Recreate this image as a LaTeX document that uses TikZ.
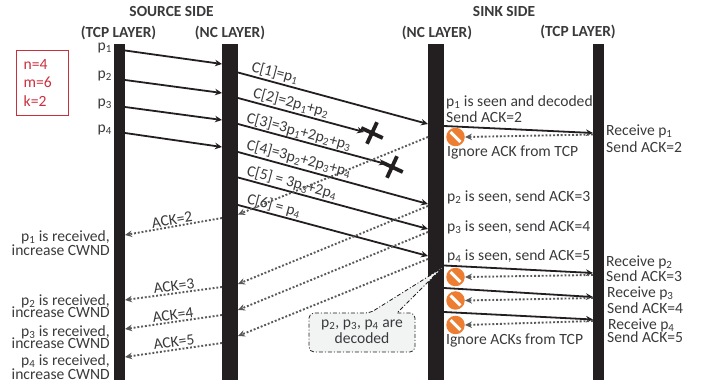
\documentclass[tikz,border=0pt]{standalone}
\usepackage{fontspec}
\setmainfont{Carlito}
\usetikzlibrary{arrows.meta,shapes.misc}
\definecolor{barcol}{HTML}{231F20}
\definecolor{txtcol}{HTML}{3A3A3C}
\definecolor{ackcol}{HTML}{58595B}
\definecolor{boxred}{HTML}{C9303E}
\definecolor{bancol}{HTML}{ED7D31}
\definecolor{notecol}{HTML}{F2F4F4}
\newcommand{\pk}[1]{p\textsubscript{#1}}
\tikzset{
  bar/.style={
    shape = rectangle,
    fill = barcol,
    inner sep = 0pt,
    minimum height = 336pt
  },
  datal/.style={
    draw = barcol,
    line width = 1.8pt,
    -{Stealth[length=7pt,width=6.5pt]}
  },
  ackl/.style={
    draw = ackcol,
    line width = 1.9pt,
    dash pattern = on 1.9pt off 1.9pt,
    -{Stealth[length=7pt,width=6.5pt]}
  },
  lab/.style={
    inner sep = 0pt,
    text = txtcol,
    font = \fontsize{15.6}{15}\selectfont
  },
  head/.style={
    lab,
    font = \fontsize{15.4}{15}\selectfont\bfseries
  },
  llab/.style={lab, anchor = west},
  rlab/.style={lab, anchor = east, align = right},
  lost/.style={
    shape = cross out,
    draw = barcol,
    line width = 3.8pt,
    inner sep = 0pt,
    minimum size = 13pt,
    rotate = 20
  },
  ban/.style={
    shape = circle,
    fill = bancol,
    inner sep = 0pt,
    minimum size = 18.5pt
  }
}
\begin{document}
\begin{tikzpicture}[x=1pt,y=-1pt]
  \useasboundingbox (0,0) rectangle (710,387);
  % layers
  \node[bar, minimum width=11pt] (tcpsrc) at (119.5,212) {};
  \node[bar, minimum width=16pt] (ncsrc) at (230,212) {};
  \node[bar, minimum width=16pt] (ncsnk) at (436,212) {};
  \node[bar, minimum width=11pt] (tcpsnk) at (598.5,212) {};
  \node[head] (srcside) at (171.5,12) {SOURCE SIDE};
  \node[head] (snkside) at (504,12) {SINK SIDE};
  \node[head] (h1) at (118.5,33) {(TCP LAYER)};
  \node[head] (h2) at (230,33) {(NC LAYER)};
  \node[head] (h3) at (437,33) {(NC LAYER)};
  \node[head] (h4) at (578,32) {(TCP LAYER)};
  % parameters
  \node[draw=boxred, text=boxred, font=\fontsize{15.6}{18.5}\selectfont, align=left,
    anchor=north west, inner sep=0pt, inner xsep=8pt, text width=36pt,
    minimum height=65pt] (params) at (15.5,50) {n=4\\m=6\\k=2};
  % packets into the NC layer
  \foreach \i/\ya/\yb/\yl in {1/50.5/64/48,2/80/93/76,3/107/120/104,4/133/147/130} {
    \coordinate (s\i) at (125,\ya);
    \coordinate (n\i) at (222,\yb);
    \draw[datal] (s\i) -- (n\i);
    \node[lab, anchor=east] (pl\i) at (112,\yl) {\pk{\i}};
  }
  % coded packets
  \foreach \i/\ya/\xb/\yb in {1/72.5/428/124,2/98/364/132,3/124/386/164,4/152/428/204,5/177.5/428/229,6/205/428/256} {
    \coordinate (ca\i) at (238,\ya);
    \coordinate (cb\i) at (\xb,\yb);
    \draw[datal] (ca\i) -- (cb\i);
  }
  \node[lost] (x1) at (372,133) {};
  \node[lost] (x2) at (392,167) {};
  \node[lab, rotate=-15] (c1) at (275,73) {C[1]=\pk{1}};
  \node[lab, rotate=-15] (c2) at (291,103) {C[2]=2\pk{1}+\pk{2}};
  \node[lab, rotate=-15] (c3) at (299,132) {C[3]=3\pk{1}+2\pk{2}+\pk{3}};
  \node[lab, rotate=-15] (c4) at (299,159) {C[4]=3\pk{2}+2\pk{3}+\pk{4}};
  \node[lab, rotate=-15] (c5) at (292,183) {C[5] = 3\pk{3}+2\pk{4}};
  \node[lab, rotate=-15] (c6) at (274,206) {C[6] = \pk{4}};
  % acks back to the NC layer
  \foreach \i/\ya/\yb in {1/137/214.5,2/206/284,3/232/310,4/259/336} {
    \coordinate (aa\i) at (428,\ya);
    \coordinate (ab\i) at (238,\yb);
    \draw[ackl] (aa\i) -- (ab\i);
  }
  % acks back to TCP
  \foreach \i/\ya/\yb in {1/218/235,2/287/300,3/315/329,4/343/357} {
    \coordinate (ta\i) at (222,\ya);
    \coordinate (tb\i) at (125,\yb);
    \draw[ackl] (ta\i) -- (tb\i);
  }
  \node[lab, rotate=9] (k1) at (172,220) {ACK=2};
  \node[lab, rotate=8] (k2) at (174,286) {ACK=3};
  \node[lab, rotate=8] (k3) at (173,315) {ACK=4};
  \node[lab, rotate=8] (k4) at (174,342) {ACK=5};
  \node[rlab] (r1) at (110,243) {\pk{1} is received,\\[-1pt]increase CWND};
  \node[rlab] (r2) at (110,306) {\pk{2} is received,\\[-3pt]increase CWND};
  \node[rlab] (r3) at (110,337) {\pk{3} is received,\\[-3pt]increase CWND};
  \node[rlab] (r4) at (110,367) {\pk{4} is received,\\[-1pt]increase CWND};
  % sink side
  \foreach \i/\ya/\yb/\yc/\yd in {1/126/133/134.5/137,2/265.5/273/275/277,3/288/297/298/300.5,4/312/319.5/321/325} {
    \coordinate (da\i) at (444,\ya);
    \coordinate (db\i) at (593,\yb);
    \coordinate (ea\i) at (593,\yc);
    \coordinate (eb\i) at (465,\yd);
    \draw[datal] (da\i) -- (db\i);
    \draw[ackl] (ea\i) -- (eb\i);
    \node[ban] (no\i) at (455.5,\yd) {};
    \draw[white, line width=3pt] ([shift={(1.8,1.8)}]no\i.135) -- ([shift={(-1.8,-1.8)}]no\i.-45);
  }
  \node[llab] (t1) at (446,102) {\pk{1} is seen and decoded};
  \node[llab] (t2) at (446,117) {Send ACK=2};
  \node[llab] (t3) at (447,152) {Ignore ACK from TCP};
  \node[llab] (t4) at (447,197) {\pk{2} is seen, send ACK=3};
  \node[llab] (t5) at (447,227) {\pk{3} is seen, send ACK=4};
  \node[llab] (t6) at (447,256) {\pk{4} is seen, send ACK=5};
  \node[llab] (t7) at (446,340) {Ignore ACKs from TCP};
  \node[llab] (u1) at (606,131) {Receive \pk{1}};
  \node[llab] (u2) at (606,147) {Send ACK=2};
  \node[llab] (u3) at (606,262) {Receive \pk{2}};
  \node[llab] (u4) at (606,276) {Send ACK=3};
  \node[llab] (u5) at (607,293) {Receive \pk{3}};
  \node[llab] (u6) at (607,308) {Send ACK=4};
  \node[llab] (u7) at (608,325) {Receive \pk{4}};
  \node[llab] (u8) at (607,337) {Send ACK=5};
  % decoded note
  \draw[draw=barcol, fill=notecol, line width=0.8pt, dash pattern=on 4pt off 2pt on 1pt off 2pt, rounded corners=5pt]
    (370,313) [sharp corners] -- (442,268) -- (397,313) [rounded corners=5pt] -- (415,313) -- (415,352) -- (309,352) -- (309,313) -- cycle;
  \node[lab, align=center] (dec) at (362,332) {\pk{2}, \pk{3}, \pk{4} are\\[1pt]decoded};
\end{tikzpicture}
\end{document}
